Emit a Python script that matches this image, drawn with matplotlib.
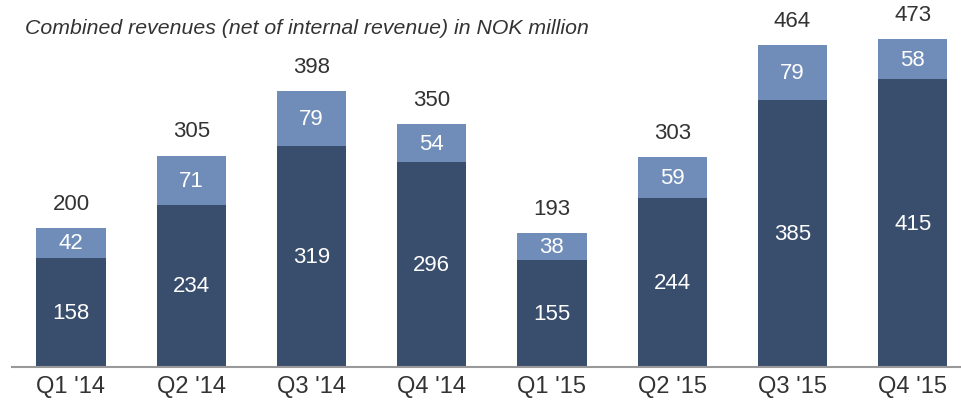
import matplotlib.pyplot as plt
import numpy as np

plt.rcParams['font.family'] = ['Liberation Sans', 'DejaVu Sans']

quarters = ["Q1 '14", "Q2 '14", "Q3 '14", "Q4 '14", "Q1 '15", "Q2 '15", "Q3 '15", "Q4 '15"]
base = [158, 234, 319, 296, 155, 244, 385, 415]
top = [42, 71, 79, 54, 38, 59, 79, 58]
totals = [200, 305, 398, 350, 193, 303, 464, 473]

dark = '#394e6d'
light = '#6f8db8'
txt = '#333333'

fig = plt.figure(figsize=(9.62, 4.10), dpi=100)
ax = fig.add_axes([0, 42 / 410, 1, 368 / 410])

x = np.arange(len(quarters))
w = 0.575
ax.bar(x, base, width=w, color=dark)
ax.bar(x, top, width=w, bottom=base, color=light)

for i in range(len(x)):
    ax.text(x[i], base[i] / 2, str(base[i]), ha='center', va='center',
            color='white', fontsize=16)
    ax.text(x[i], base[i] + top[i] / 2, str(top[i]), ha='center', va='center',
            color='white', fontsize=16)
    ax.annotate(str(totals[i]), (x[i], base[i] + top[i]), xytext=(0, 18),
                textcoords='offset points', ha='center', va='center',
                color=txt, fontsize=16)

ax.set_xlim(-0.59, 7.41)
ax.set_ylim(0, 531)
for s in ['top', 'right', 'left']:
    ax.spines[s].set_visible(False)
ax.spines['bottom'].set_color('#999999')
ax.spines['bottom'].set_linewidth(1.5)
ax.spines['bottom'].set_bounds(-0.49, 7.41)
ax.set_yticks([])
ax.set_xticks(x)
ax.set_xticklabels(quarters, fontsize=17, color=txt)
ax.tick_params(axis='x', length=0, pad=6)

fig.text(25 / 962, 1 - 28 / 410, 'Combined revenues (net of internal revenue) in NOK million',
         fontsize=15.3, style='italic', color=txt, va='center', ha='left')

fig.savefig('out.png', dpi=100)
